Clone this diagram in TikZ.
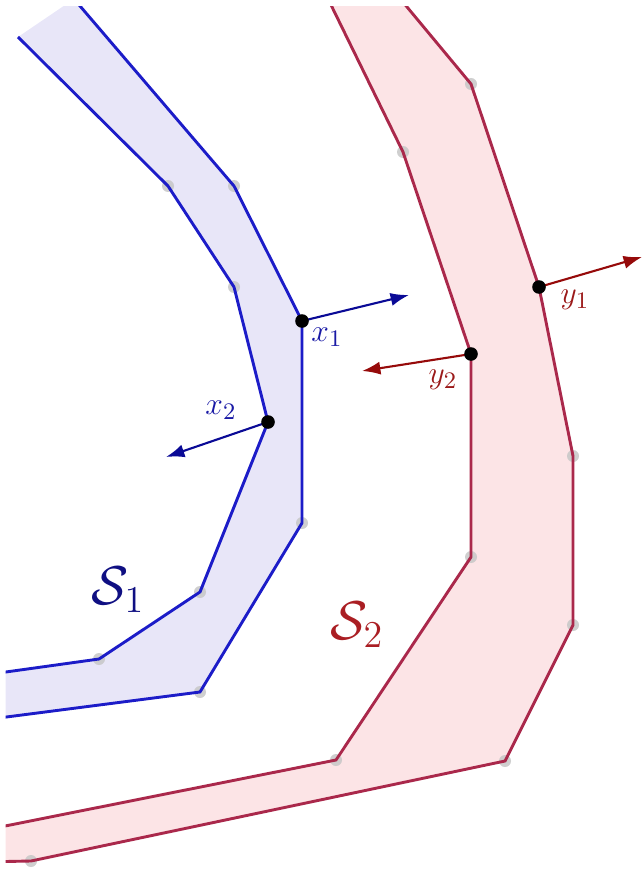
\documentclass[tikz,border=0pt]{standalone}
\usetikzlibrary{arrows.meta}
\definecolor{blueline}{RGB}{28,28,200}
\definecolor{bluefill}{RGB}{232,230,248}
\definecolor{redline}{RGB}{170,40,75}
\definecolor{redfill}{RGB}{252,228,230}
\definecolor{xarrow}{RGB}{10,10,150}
\definecolor{yarrow}{RGB}{150,10,10}
\definecolor{xlab}{RGB}{25,25,165}
\definecolor{ylab}{RGB}{155,25,25}
\definecolor{slabone}{RGB}{15,15,130}
\definecolor{slabtwo}{RGB}{170,30,35}
\tikzset{
  bline/.style={blueline, line width=1.1pt, line join=miter},
  rline/.style={redline, line width=1.1pt, line join=miter},
  vertexdot/.style={fill=black!22, opacity=0.85},
  pointdot/.style={fill=black},
  xnormal/.style={xarrow, line width=0.8pt, -{Latex[length=7pt,width=5pt]}},
  ynormal/.style={yarrow, line width=0.8pt, -{Latex[length=7pt,width=5pt]}},
  ptlabel/.style={inner sep=0pt, font=\fontsize{12.5}{14}\selectfont},
  setlabel/.style={inner sep=0pt, font=\fontsize{20}{24}\selectfont}
}
\begin{document}
\begin{tikzpicture}[x=0.38pt, y=-0.38pt]
\useasboundingbox (0,0) rectangle (642,869);
% blue set S1
\coordinate (bo0) at (74,-1);
\coordinate (bo1) at (234,186);
\coordinate (x1) at (302,321);
\coordinate (bo3) at (302,523);
\coordinate (bo4) at (200,692);
\coordinate (bo5) at (-20,720.4);
\coordinate (bi0) at (18,37);
\coordinate (bi1) at (168,186);
\coordinate (bi2) at (234,287);
\coordinate (x2) at (268,422);
\coordinate (bi4) at (200,592);
\coordinate (bi5) at (99,659);
\coordinate (bi6) at (-20,675.6);
% red set S2
\coordinate (ro0) at (384.6,-20);
\coordinate (ro1) at (471,84);
\coordinate (y1) at (539,287);
\coordinate (ro3) at (573,456);
\coordinate (ro4) at (573,625);
\coordinate (ro5) at (505,761);
\coordinate (ro6) at (31,861);
\coordinate (ro7) at (-20,862);
\coordinate (ri0) at (318.8,-20);
\coordinate (ri1) at (403,152);
\coordinate (y2) at (471,354);
\coordinate (ri3) at (471,557);
\coordinate (ri4) at (336,760);
\coordinate (ri5) at (-20,831);
% arrow ends
\coordinate (x1e) at (409,295);
\coordinate (x2e) at (166,457);
\coordinate (y1e) at (642,257);
\coordinate (y2e) at (362,371);

\begin{scope}
\clip (5.5,7) rectangle (642,869);
\fill[bluefill] (bo0) -- (bo1) -- (x1) -- (bo3) -- (bo4) -- (bo5) -- (bi6) -- (bi5) -- (bi4) -- (x2) -- (bi2) -- (bi1) -- (bi0) -- cycle;
\fill[redfill] (ro0) -- (ro1) -- (y1) -- (ro3) -- (ro4) -- (ro5) -- (ro6) -- (ro7) -- (ri5) -- (ri4) -- (ri3) -- (y2) -- (ri1) -- (ri0) -- cycle;
\foreach \p in {bi1,bo1,bi2,bo3,bi4,bi5,bo4,ro1,ri1,ro3,ro4,ri3,ri4,ro5,ro6}
  \fill[vertexdot] (\p) circle[radius=6];
\draw[bline] (bo0) -- (bo1) -- (x1) -- (bo3) -- (bo4) -- (bo5);
\draw[bline] (bi0) -- (bi1) -- (bi2) -- (x2) -- (bi4) -- (bi5) -- (bi6);
\draw[rline] (ro0) -- (ro1) -- (y1) -- (ro3) -- (ro4) -- (ro5) -- (ro6) -- (ro7);
\draw[rline] (ri0) -- (ri1) -- (y2) -- (ri3) -- (ri4) -- (ri5);
\end{scope}

\draw[xnormal] (x1) -- (x1e);
\draw[xnormal] (x2) -- (x2e);
\draw[ynormal] (y1) -- (y1e);
\draw[ynormal] (y2) -- (y2e);
\foreach \p in {x1,x2,y1,y2}
  \fill[pointdot] (\p) circle[radius=6.8];

\node[ptlabel, text=xlab] (lx1) at (327,337) {$x_1$};
\node[ptlabel, text=xlab] (lx2) at (221,410) {$x_2$};
\node[ptlabel, text=ylab] (ly1) at (575,300) {$y_1$};
\node[ptlabel, text=ylab] (ly2) at (443,380) {$y_2$};
\node[setlabel, text=slabone] (ls1) at (118,590) {$\mathcal{S}_1$};
\node[setlabel, text=slabtwo] (ls2) at (357,625) {$\mathcal{S}_2$};
\end{tikzpicture}
\end{document}
